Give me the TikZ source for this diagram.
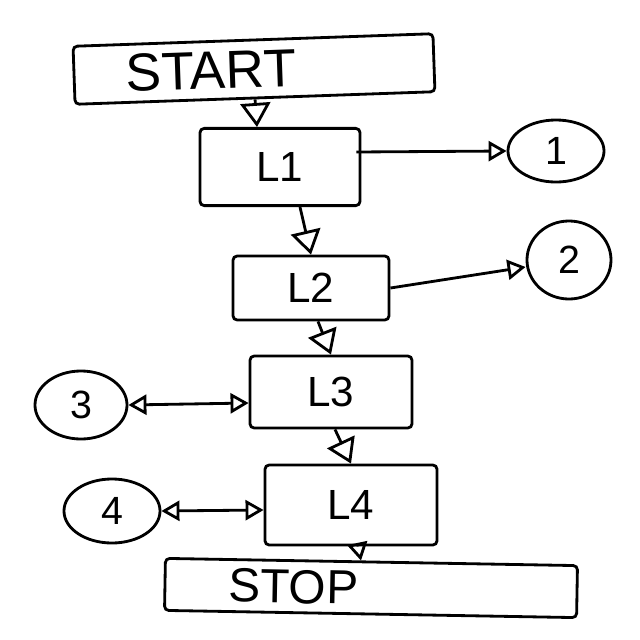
\documentclass[tikz,border=0pt]{standalone}
\usepackage{fontspec}
\setsansfont{Liberation Sans}
\usetikzlibrary{positioning,calc,arrows.meta,shapes.geometric}
\tikzset{
  stepbox/.style={draw, line width=2pt, rounded corners=3pt, inner sep=0pt},
  termbox/.style={stepbox, align=left},
  pagecirc/.style={ellipse, draw, line width=2pt, inner sep=0pt},
  flowarrow/.style={line width=2pt, -{Triangle[open, length=6mm, width=7.5mm]}},
  sidearrow/.style={line width=2pt, -{Triangle[open, length=4.5mm, width=5mm]}},
  botharrow/.style={line width=2pt, {Triangle[open, length=4.5mm, width=5mm]}-{Triangle[open, length=4.5mm, width=5mm]}}
}

\begin{document}
\begin{tikzpicture}[x=0.025cm, y=-0.025cm, font=\sffamily]
    \useasboundingbox (0,0) rectangle (640,640);
    % start and stop bars
    \node[termbox, minimum width=9cm, minimum height=1.45cm, inner xsep=1.3cm,
      text width=6.4cm, rotate=2, font=\sffamily\fontsize{38}{40}\selectfont]
      (start) at (254,69) {START};
    \node[termbox, minimum width=10.3cm, minimum height=1.3cm, inner xsep=1.6cm,
      text width=7.1cm, rotate=-1, font=\sffamily\fontsize{34}{36}\selectfont]
      (stop) at (371,588) {STOP};
    % level boxes
    \foreach \name/\lab/\x/\y/\w/\h in {l1/L1/280/167/4.0/1.93, l2/L2/311/288/3.9/1.6,
        l3/L3/331/392/4.05/1.8, l4/L4/351/505/4.3/2.0} {
      \node[stepbox, minimum width=\w cm, minimum height=\h cm,
        font=\sffamily\fontsize{30}{32}\selectfont] (\name) at (\x,\y) {\lab};
    }
    % connectors (circles)
    \foreach \name/\lab/\x/\y/\w/\h in {c1/1/556/151/2.4/1.55, c2/2/569/260/2.1/1.95,
        c3/3/81/405/2.3/1.7, c4/4/112/511/2.4/1.6} {
      \node[pagecirc, minimum width=\w cm, minimum height=\h cm,
        font=\sffamily\fontsize{28}{30}\selectfont] (\name) at (\x,\y) {\lab};
    }
    \draw[flowarrow] (start.south) -- ($(l1.north)+(-23,0)$);
    \draw[flowarrow] ($(l1.south)+(20,0)$) -- (l2.north);
    \draw[flowarrow] ($(l2.south)+(7,0)$) -- (l3.north);
    \draw[flowarrow] ($(l3.south)+(4,0)$) -- (l4.north);
    \draw[sidearrow] ($(l4.south)+(7,0)$) -- (stop.north -| {$(l4.south)+(10,0)$});
    \draw[sidearrow] ($(l1.east)+(-5,-15)$) -- (c1.west);
    \draw[sidearrow] (l2.east) -- ($(c2.west)+(0,7)$);
    \draw[botharrow] (c3.east) -- ($(l3.west)+(0,11)$);
    \draw[botharrow] (c4.east) -- ($(l4.west)+(0,5)$);
  \end{tikzpicture}
\end{document}
